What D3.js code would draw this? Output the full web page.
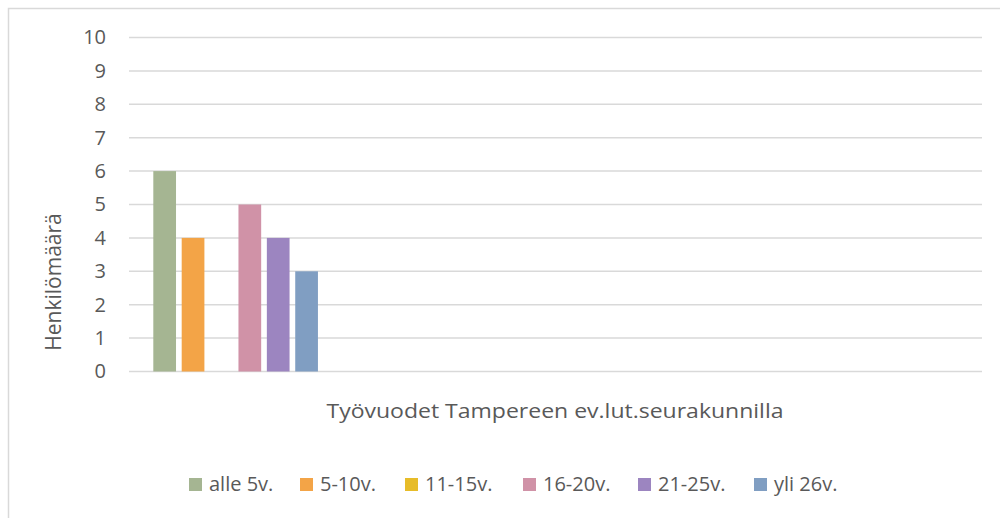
<!DOCTYPE html>
<html>
<head>
<meta charset="utf-8">
<script src="https://cdn.jsdelivr.net/npm/d3@7"></script>
<style>
  body { margin: 0; background: #fff; }
  text { font-family: "Open Sans", "Noto Sans", sans-serif; fill: #595959; }
</style>
</head>
<body>
<div id="chart"></div>
<script>
'use strict';

// Data
var category = 'Työvuodet Tampereen ev.lut.seurakunnilla';
var seriesNames = ['alle 5v.', '5-10v.', '11-15v.', '16-20v.', '21-25v.', 'yli 26v.'];
var seriesValues = [6, 4, 0, 5, 4, 3];
var seriesColors = ['#A5B592', '#F3A447', '#E7BC29', '#D092A7', '#9C85C0', '#809EC2'];
var yTicks = [0, 1, 2, 3, 4, 5, 6, 7, 8, 9, 10];
var yTitle = 'Henkilömäärä';

var width = 1000, height = 518;
var margin = {top: 37.5, right: 18, bottom: 146.5, left: 129};
var innerWidth = width - margin.left - margin.right;
var innerHeight = height - margin.top - margin.bottom;
var fontSize = 20;

var svg = d3.select('#chart').append('svg')
  .attr('width', width)
  .attr('height', height);

// outer chart frame (right and bottom edges fall outside the picture)
svg.append('path')
  .attr('d', 'M8.5,' + height + 'V8.5H' + width)
  .attr('fill', 'none')
  .attr('stroke', '#D9D9D9')
  .attr('stroke-width', 1.5);

var chart = svg.append('g')
  .attr('transform', 'translate(' + margin.left + ',' + margin.top + ')');

var y = d3.scaleLinear().domain([0, 10]).range([innerHeight, 0]);

// the single category's bars sit at the left of the plot
var x = d3.scaleBand()
  .domain(seriesNames)
  .range([innerWidth * 0.0285, innerWidth * 0.2215])
  .paddingInner(0.2);

// gridlines
chart.selectAll('line.grid')
  .data(yTicks)
  .enter().append('line')
  .attr('class', 'grid')
  .attr('x1', 0).attr('x2', innerWidth)
  .attr('y1', function(d) { return y(d); })
  .attr('y2', function(d) { return y(d); })
  .attr('stroke', '#D9D9D9')
  .attr('stroke-width', 1.5);

var yAxis = d3.axisLeft(y).tickValues(yTicks).tickSize(0).tickPadding(23);
chart.append('g').call(yAxis)
  .call(function(g) { g.select('.domain').remove(); })
  .selectAll('text')
  .attr('font-size', fontSize)
  .attr('font-family', '"Open Sans", sans-serif')
  .attr('fill', '#595959');

chart.selectAll('rect.bar')
  .data(seriesValues)
  .enter().append('rect')
  .attr('class', 'bar')
  .attr('x', function(d, i) { return x(seriesNames[i]); })
  .attr('width', x.bandwidth())
  .attr('y', function(d) { return y(d); })
  .attr('height', function(d) { return innerHeight - y(d); })
  .attr('fill', function(d, i) { return seriesColors[i]; });

// x axis title (category label)
chart.append('text')
  .attr('x', innerWidth / 2 - 0.5)
  .attr('y', innerHeight + 46)
  .attr('text-anchor', 'middle')
  .attr('font-size', fontSize)
  .attr('textLength', 457)
  .attr('lengthAdjust', 'spacingAndGlyphs')
  .text(category);

// y axis title
svg.append('text')
  .attr('transform', 'translate(61,282) rotate(-90)')
  .attr('text-anchor', 'middle')
  .attr('font-size', 21)
  .text(yTitle);

// legend
var legendX = [189, 300, 405, 523, 638, 754];
var legend = svg.append('g').attr('transform', 'translate(0,478)');
var item = legend.selectAll('g.item')
  .data(seriesNames)
  .enter().append('g')
  .attr('class', 'item')
  .attr('transform', function(d, i) { return 'translate(' + legendX[i] + ',0)'; });
item.append('rect')
  .attr('width', 13).attr('height', 13)
  .attr('fill', function(d, i) { return seriesColors[i]; });
item.append('text')
  .attr('x', 20)
  .attr('y', 13)
  .attr('font-size', fontSize)
  .text(function(d) { return d; });
</script>
</body>
</html>
